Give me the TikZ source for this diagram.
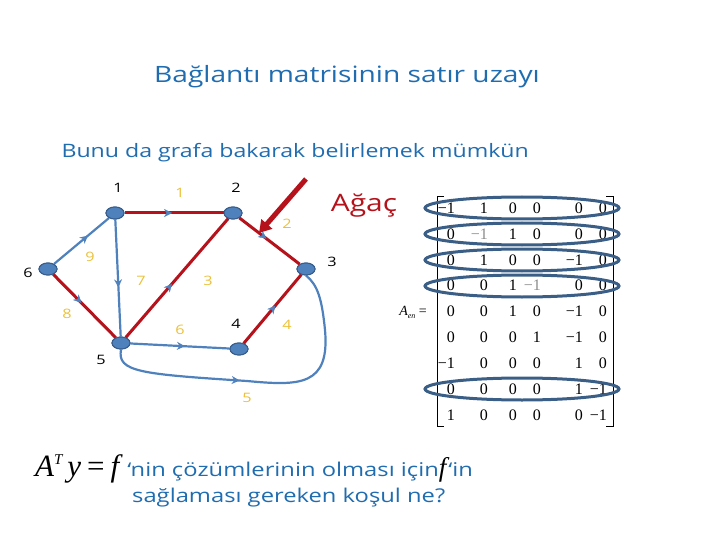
\documentclass[tikz,border=0pt]{standalone}
\usepackage{fontspec}
\setmainfont{Open Sans}[FakeStretch=1.25]
\newfontfamily\serif{Liberation Serif}
\usetikzlibrary{decorations.markings,arrows.meta,shapes.geometric}
\definecolor{ttl}{HTML}{1F6CB0}
\definecolor{eb}{HTML}{4F81BD}
\definecolor{nb}{HTML}{385D8A}
\definecolor{tr}{HTML}{B5121B}
\definecolor{gold}{HTML}{EBC03A}
\definecolor{ell}{HTML}{3A5E86}
\newcommand\greyent[1]{\textcolor{black!45}{#1}}
\tikzset{
  vtx/.style={ellipse, fill=eb, draw=nb, line width=1pt, minimum width=18pt, minimum height=12pt, inner sep=0pt},
  vlab/.style={font=\fontsize{13}{13}\selectfont, text=black, inner sep=0pt},
  elab/.style={font=\fontsize{13}{13}\selectfont, text=gold, inner sep=0pt},
  bedge/.style={draw=eb, line width=2.2pt},
  redge/.style={draw=tr, line width=3pt},
  marr/.style={postaction={decorate}, decoration={markings, mark=at position #1 with {\arrow[color=eb]{Stealth[length=8pt,width=8pt]}}}},
  ment/.style={font=\serif\fontsize{16}{16}\selectfont, inner sep=0pt, anchor=east},
  ellrow/.style={draw=ell, line width=3pt},
}
\begin{document}
\begin{tikzpicture}[x=1pt,y=-1pt]
\useasboundingbox (0,0) rectangle (720,540);
% titles
\node[text=ttl, font=\fontsize{22.5}{22.5}\selectfont] (title) at (347,77) {Bağlantı matrisinin satır uzayı};
\node[text=ttl, font=\fontsize{18.5}{18.5}\selectfont, anchor=west] (sub) at (58,153) {Bunu da grafa bakarak belirlemek mümkün};
% vertices
\node[vtx] (n1) at (115,213) {};
\node[vtx] (n2) at (233,213) {};
\node[vtx] (n3) at (306,269) {};
\node[vtx] (n4) at (239,349) {};
\node[vtx] (n5) at (121,343) {};
\node[vtx] (n6) at (48,269) {};
% edges
\draw[redge] (n1) -- (n2);
\path[marr=0.48] (n1) -- (n2);
\draw[redge] (n2) -- (n3);
\path[marr=0.45] (n2) -- (n3);
\draw[redge] (n5) -- (n2);
\path[marr=0.45] (n5) -- (n2);
\draw[redge] (n4) -- (n3);
\path[marr=0.55] (n4) -- (n3);
\draw[redge] (n6) -- (n5);
\path[marr=0.45] (n6) -- (n5);
\draw[bedge, marr=0.62] (n6) -- (n1);
\draw[bedge, marr=0.58] (n1) -- (n5);
\draw[bedge, marr=0.55] (n5) -- (n4);
\draw[bedge, marr=0.42] (n5.south) .. controls (117,372) and (140,374) .. (247,381)
   .. controls (300,386) and (330,386) .. (325,330)
   .. controls (322,300) and (318,285) .. (n3.south);
% redraw vertices on top
\foreach \p in {(115,213),(233,213),(306,269),(239,349),(121,343),(48,269)}
  \node[vtx] at \p {};
% vertex labels
\node[vlab] (v1) at (118,188) {1};
\node[vlab] (v2) at (236,188) {2};
\node[vlab] (v3) at (332,262) {3};
\node[vlab] (v4) at (236,324) {4};
\node[vlab] (v5) at (101,360) {5};
\node[vlab] (v6) at (28,273) {6};
% edge labels
\node[elab] (e1) at (180,193) {1};
\node[elab] (e2) at (287,224) {2};
\node[elab] (e3) at (208,281) {3};
\node[elab] (e4) at (287,325) {4};
\node[elab] (e5) at (247,398) {5};
\node[elab] (e6) at (180,330) {6};
\node[elab] (e7) at (141,281) {7};
\node[elab] (e8) at (67,314) {8};
\node[elab] (e9) at (90,257) {9};
% big red arrow
\coordinate (ra) at (306,179);
\coordinate (rb) at (259,233);
\draw[tr, line width=5pt, -{Triangle[length=12pt,width=14pt]}] (ra) -- (rb);
\node[text=tr, font=\fontsize{24}{24}\selectfont] (agac) at (364,206) {Ağaç};
% matrix
\def\colxs{{455,488,517,541,583,607}}
\foreach \r/\row in {1/{−1,1,0,0,0,0},2/{0,\greyent{−1},1,0,0,0},3/{0,1,0,0,−1,0},4/{0,0,1,\greyent{−1},0,0},5/{0,0,1,0,−1,0},6/{0,0,0,1,−1,0},7/{−1,0,0,0,1,0},8/{0,0,0,0,1,−1},9/{1,0,0,0,0,−1}}{
  \foreach \v [count=\c] in \row {
    \pgfmathsetmacro\cx{\colxs[\c-1]}
    \node[ment] (m\r\c) at (\cx,{208+25.9*(\r-1)}) {\v};
  }
}
\draw[line width=0.8pt] (444,196) -- (437,196) -- (437,426) -- (444,426);
\draw[line width=0.8pt] (606,196) -- (613,196) -- (613,426) -- (606,426);
\node[font=\serif\fontsize{14}{14}\selectfont, inner sep=0pt] (aen) at (413,312) {\itshape A\raisebox{-3pt}{\fontsize{8}{8}\selectfont en}\upshape\ =};
% row ellipses
\foreach \yy in {208,234,260,286,389}
  \draw[ellrow] (522,\yy) ellipse [x radius=97pt, y radius=11pt];
% bottom text
\node[anchor=base west, inner sep=0pt] (q1) at (35,476) {{\serif\fontsize{31}{31}\selectfont\itshape A\raisebox{12pt}{\fontsize{15}{15}\selectfont T}\kern5pt y\upshape\kern6pt=\kern6pt\itshape f}\kern8pt{\color{ttl}\fontsize{19}{19}\selectfont ‘nin çözümlerinin olması için}{\serif\fontsize{27}{27}\selectfont\itshape f}\kern2pt{\color{ttl}\fontsize{19}{19}\selectfont ‘in}};
\node[anchor=base west, inner sep=0pt, text=ttl, font=\fontsize{19}{19}\selectfont] (q2) at (132,502) {sağlaması gereken koşul ne?};
\end{tikzpicture}
\end{document}
